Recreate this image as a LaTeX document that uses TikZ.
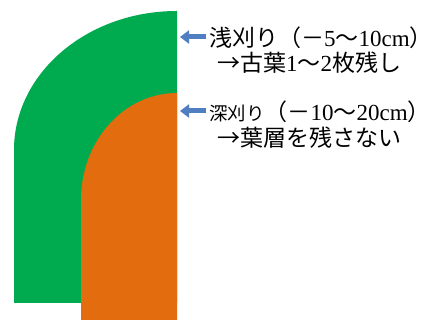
\documentclass[tikz,border=0pt]{standalone}
\usepackage{fontspec}
\setmainfont{Liberation Serif}
\newfontfamily\jp{Noto Sans CJK JP}
\usetikzlibrary{arrows.meta}
\definecolor{leafgreen}{HTML}{00AA4F}
\definecolor{cutorange}{HTML}{E36C0E}
\definecolor{arrowblue}{HTML}{4F7FC0}
\tikzset{
  lbl/.style={anchor=base west, inner sep=0pt, font=\fontsize{23}{26}\selectfont},
  pointer/.style={draw=arrowblue, line width=5pt, -{Triangle[length=9pt,width=13pt]}}
}
\begin{document}
\begin{tikzpicture}[x=1pt,y=1pt]
\useasboundingbox[fill=white] (0,0) rectangle (432,320);
% green layer
\fill[leafgreen] (14,17) -- (14,170) arc[start angle=180,end angle=90,x radius=163,y radius=139] -- (177,17) -- cycle;
% orange layer
\fill[cutorange] (81,0) -- (81,120) arc[start angle=180,end angle=90,x radius=96,y radius=107] -- (177,0) -- cycle;
% labels
\node[lbl] (t1) at (209,273) {{\jp 浅刈り（－}5{\jp ～}10cm{\jp ）}};
\node[lbl] (t2) at (217,248) {{\jp →古葉}1{\jp ～}2{\jp 枚残し}};
\node[lbl] (t3) at (209,199) {{\jp\fontsize{18.5}{20}\selectfont 深刈り}{\jp （－}10{\jp ～}20cm{\jp ）}};
\node[lbl] (t4) at (217,173) {{\jp →葉層を残さない}};
\coordinate (p1) at (180,283);
\coordinate (p2) at (180,209);
\coordinate (q1) at (206,283);
\coordinate (q2) at (206,209);
\draw[pointer] (q1) -- (p1);
\draw[pointer] (q2) -- (p2);
\end{tikzpicture}
\end{document}
